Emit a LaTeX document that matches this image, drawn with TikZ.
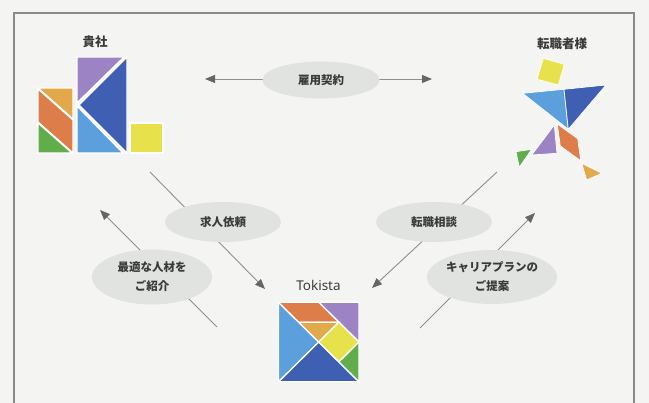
\documentclass[tikz,border=0pt]{standalone}
\usepackage{fontspec}
\newfontfamily\jp{Noto Sans CJK JP}
\newfontfamily\latinsans{Noto Sans}
\usetikzlibrary{shapes.geometric,arrows.meta}

% palette
\definecolor{paper}{HTML}{F4F5F3}
\definecolor{framegray}{HTML}{8A8A8A}
\definecolor{linegray}{HTML}{8E8E8E}
\definecolor{headgray}{HTML}{666666}
\definecolor{bubblefill}{HTML}{E0E3E0}
\definecolor{inkgray}{HTML}{3A3A3A}
\definecolor{tPurple}{HTML}{9C84C4}
\definecolor{tDark}{HTML}{3F5FB3}
\definecolor{tLight}{HTML}{5C9FDD}
\definecolor{tAmber}{HTML}{E2A94B}
\definecolor{tOrange}{HTML}{DD7D4A}
\definecolor{tGreen}{HTML}{62AD4B}
\definecolor{tYellow}{HTML}{E7E24C}

\tikzset{
  piece/.style={fill=#1, draw=white, line width=1.3pt, line join=miter},
  smallpiece/.style={fill=#1, draw=white, line width=0.7pt, line join=miter},
  link/.style={draw=linegray, line width=0.9pt,
    -{Triangle[length=10pt,width=8pt,color=headgray]}},
  linkboth/.style={draw=linegray, line width=0.9pt,
    {Triangle[length=10pt,width=8pt,color=headgray]}-{Triangle[length=10pt,width=8pt,color=headgray]}},
  bubble/.style={ellipse, fill=bubblefill, draw=none, inner sep=0pt,
    font=\jp\bfseries\fontsize{11.5}{19}\selectfont, text=inkgray, align=center},
  title/.style={font=\jp\bfseries\fontsize{12.5}{14}\selectfont, text=inkgray},
}

\begin{document}
\begin{tikzpicture}[x=1pt,y=-1pt]
  % page and frame
  \fill[paper] (0,0) rectangle (649,403);
  \useasboundingbox (0,0) rectangle (649,403);
  \draw[framegray, line width=1.1pt] (14,403) -- (14,13) -- (634,13) -- (634,403);

  % ---- company mark (tangram "K") ----
  \node[title] (company) at (95,42) {貴社};
  \path[piece=tPurple] (77,57) -- (124,57) -- (77,103) -- cycle;
  \path[piece=tDark]   (127,57) -- (127,153) -- (79,105) -- cycle;
  \path[piece=tLight]  (77,106) -- (123,153) -- (77,153) -- cycle;
  \path[piece=tAmber]  (38,88) -- (73,88) -- (73,119) -- cycle;
  \path[piece=tOrange] (38,89) -- (73,120) -- (73,153) -- (38,122) -- cycle;
  \path[piece=tGreen]  (38,123) -- (72,153) -- (38,153) -- cycle;
  \path[piece=tYellow] (130,123) rectangle (163,153);

  % ---- candidate mark (tangram runner) ----
  \node[title] (candidate) at (562,44) {転職者様};
  \path[smallpiece=tYellow] (543.3,58.3) -- (564.3,64.3) -- (558.3,85) -- (537,79.3) -- cycle;
  \path[smallpiece=tLight]  (522.7,93.3) -- (564,89.3) -- (568.3,129.3) -- cycle;
  \path[smallpiece=tDark]   (564,89.3) -- (606,85) -- (568.3,129.3) -- cycle;
  \path[smallpiece=tPurple] (554.3,125) -- (531.7,155) -- (557,153.3) -- cycle;
  \path[smallpiece=tOrange] (557.3,124) -- (577.7,138.7) -- (580.7,160.7) -- (560.3,146) -- cycle;
  \path[smallpiece=tGreen]  (516,151.7) -- (531.7,149.3) -- (519.3,167.3) -- cycle;
  \path[smallpiece=tAmber]  (581.7,163.3) -- (601.7,173.3) -- (586.7,180) -- cycle;

  % ---- Tokista mark (tangram square) ----
  \node[font=\latinsans\fontsize{13.5}{15}\selectfont, text=inkgray] (tokista) at (318.5,285) {Tokista};
  \begin{scope}[shift={(278.5,302.3)}, x=80.5pt, y=-79.5pt]
    \path[piece=tLight]  (0,0) -- (0.5,0.5) -- (0,1) -- cycle;
    \path[piece=tDark]   (0,1) -- (0.5,0.5) -- (1,1) -- cycle;
    \path[piece=tPurple] (0.5,0) -- (1,0) -- (1,0.5) -- cycle;
    \path[piece=tOrange] (0,0) -- (0.5,0) -- (0.75,0.25) -- (0.25,0.25) -- cycle;
    \path[piece=tAmber]  (0.25,0.25) -- (0.75,0.25) -- (0.5,0.5) -- cycle;
    \path[piece=tYellow] (0.75,0.25) -- (1,0.5) -- (0.75,0.75) -- (0.5,0.5) -- cycle;
    \path[piece=tGreen]  (1,0.5) -- (1,1) -- (0.75,0.75) -- cycle;
  \end{scope}

  % ---- connector end points ----
  \coordinate (hireL) at (205,79);
  \coordinate (hireR) at (432,79);
  \coordinate (reqS)  at (150,172);
  \coordinate (reqE)  at (265,289);
  \coordinate (introS) at (217,327);
  \coordinate (introE) at (100,210);
  \coordinate (consS) at (497,172);
  \coordinate (consE) at (372,288);
  \coordinate (planS) at (420,328);
  \coordinate (planE) at (535,213);

  % ---- connectors ----
  \draw[linkboth] (hireL) -- (hireR);
  \draw[link] (reqS) -- (reqE);
  \draw[link] (introS) -- (introE);
  \draw[link] (consS) -- (consE);
  \draw[link] (planS) -- (planE);

  % ---- labels on the connectors ----
  \node[bubble, minimum width=117pt, minimum height=37pt] (hire) at (321,80) {雇用契約};
  \node[bubble, minimum width=116pt, minimum height=40pt] (request) at (223,222) {求人依頼};
  \node[bubble, minimum width=120pt, minimum height=55pt] (intro) at (152,277) {最適な人材を\\ご紹介};
  \node[bubble, minimum width=116pt, minimum height=40pt] (consult) at (434,222) {転職相談};
  \node[bubble, minimum width=118pt, minimum height=54pt] (plan) at (492,277) {キャリアプランの\\ご提案};
\end{tikzpicture}
\end{document}
